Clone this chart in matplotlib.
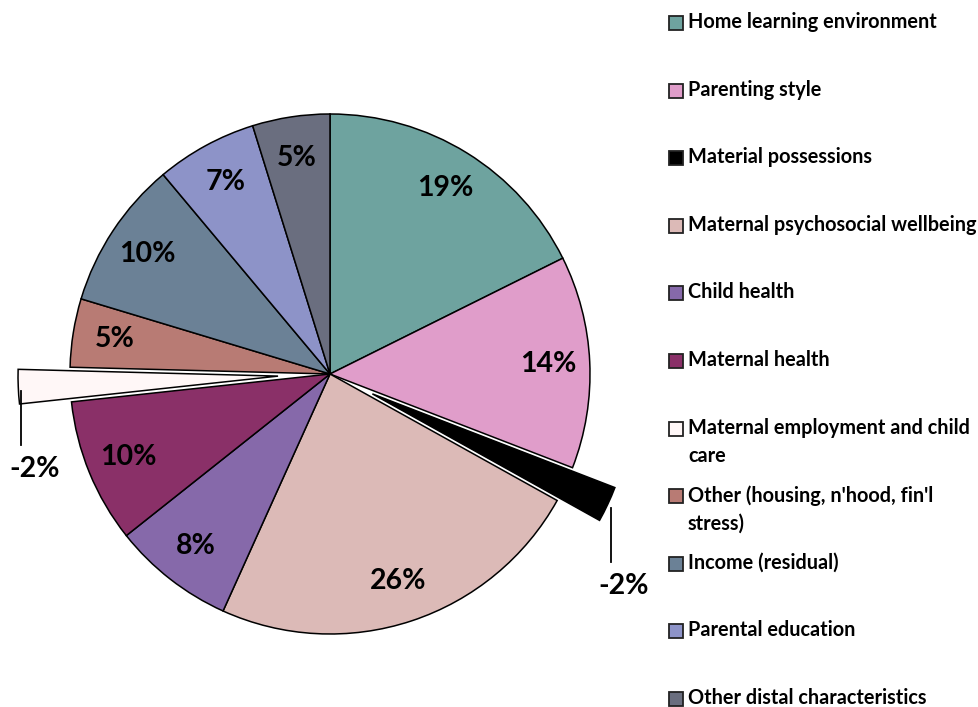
import matplotlib
matplotlib.use("Agg")
import matplotlib.pyplot as plt
from matplotlib.patches import Rectangle
import numpy as np

categories = ["Home learning environment", "Parenting style", "Material possessions",
              "Maternal psychosocial wellbeing", "Child health", "Maternal health",
              "Maternal employment and child\ncare", "Other (housing, n'hood, fin'l\nstress)",
              "Income (residual)", "Parental education", "Other distal characteristics"]
values = [19.1, 14.3, -2.4, 25.6, 8.2, 9.7, -2.3, 4.6, 10.0, 6.8, 5.2]
labels = ["19%", "14%", "-2%", "26%", "8%", "10%", "-2%", "5%", "10%", "7%", "5%"]
colors = ["#6ea39f", "#e09dca", "#000000", "#dcbab7", "#8669aa", "#8a3068",
          "#fff7f7", "#b87b74", "#6b8196", "#8d93c8", "#6a6e7f"]

W, H = 979, 707
cx, cy, R = 330, H - 374, 260
explode = [0, 0, 0.18 * R, 0, 0, 0, 0.2 * R, 0, 0, 0, 0]

fig = plt.figure(figsize=(W / 100, H / 100), dpi=100)
ax = fig.add_axes([0, 0, 1, 1])

FONT = "Lato"
WEIGHT = "bold"
wedges, _ = ax.pie(np.abs(values), colors=colors, explode=explode, startangle=90,
                   counterclock=False, center=(cx, cy), radius=R, frame=True,
                   wedgeprops=dict(edgecolor="black", linewidth=1.1))
ax.set_xlim(0, W)
ax.set_ylim(0, H)
ax.axis("off")

for w, lab, v in zip(wedges, labels, values):
    mid = np.deg2rad((w.theta1 + w.theta2) / 2)
    wx, wy = w.center
    if v >= 0:
        r = 0.84 * R
        ax.text(wx + r * np.cos(mid), wy + r * np.sin(mid), lab, ha="center", va="center",
                fontsize=20.5, fontweight=WEIGHT, family=FONT)
    else:
        ox, oy = wx + R * np.cos(mid), wy + R * np.sin(mid)
        ax.plot([ox + 3, ox + 3], [oy - 4, oy - 58], color="black", lw=1.3)
        ax.text(ox + 16, oy - 82, lab, ha="center", va="center",
                fontsize=20.5, fontweight=WEIGHT, family=FONT)

# legend
lx, ly0, step = 669, H - 23, 67.6
for i, (cat, col) in enumerate(zip(categories, colors)):
    y = ly0 - i * step
    ax.add_patch(Rectangle((lx, y - 7), 14, 14, facecolor=col, edgecolor="#222222", lw=1.3))
    ax.text(lx + 19, y + 11, cat, ha="left", va="top", fontsize=14.3, fontweight=WEIGHT,
            family=FONT, linespacing=1.5)

fig.savefig("out.png", dpi=100)
